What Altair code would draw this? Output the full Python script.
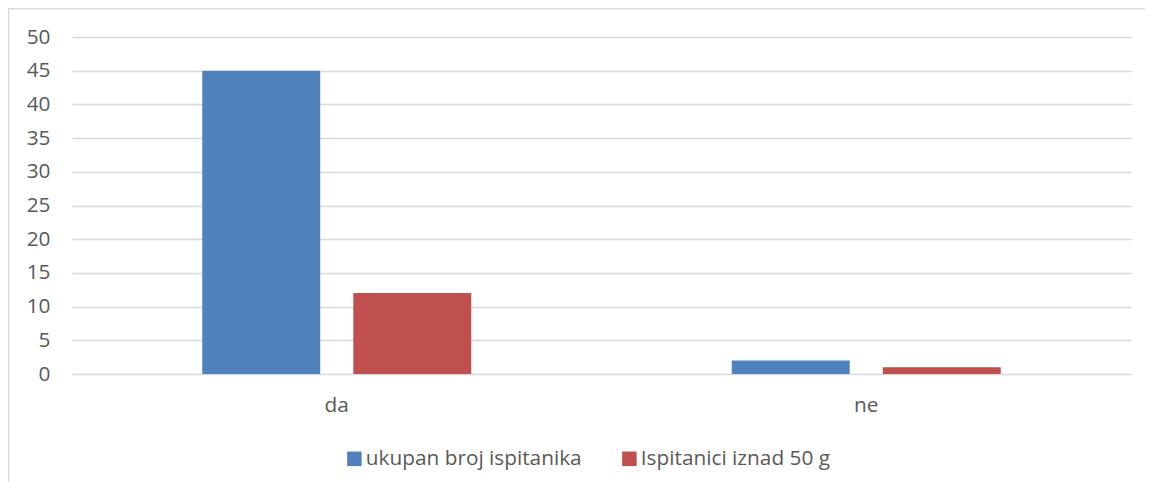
import altair as alt
import pandas as pd

categories = ["da", "ne"]
series = ["ukupan broj ispitanika", "Ispitanici iznad 50 g"]
ukupan = [45, 2]
iznad = [12, 1]
colors = ["#4F81BD", "#C0504D"]
y_ticks = [0, 5, 10, 15, 20, 25, 30, 35, 40, 45, 50]

rows = []
for i, c in enumerate(categories):
    rows.append({"kategorija": c, "serija": series[0], "vrijednost": ukupan[i]})
    rows.append({"kategorija": c, "serija": series[1], "vrijednost": iznad[i]})
df = pd.DataFrame(rows)

W = 1059
H = 337
PAD = {"left": 64, "top": 29, "right": 14, "bottom": 108}
FONT = "Open Sans"
FS = 20.8
TXT = "#595959"

bars = alt.Chart(df).mark_bar().encode(
    x=alt.X(
        "kategorija:N",
        sort=categories,
        scale=alt.Scale(paddingInner=0.492, paddingOuter=0.246),
        axis=alt.Axis(title=None, labelAngle=0, ticks=False, domain=False, grid=False,
                      labelPadding=21, labelFontSize=FS, labelColor=TXT, labelFont=FONT),
    ),
    xOffset=alt.XOffset("serija:N", sort=series,
                        scale=alt.Scale(paddingInner=0.219, paddingOuter=0)),
    y=alt.Y(
        "vrijednost:Q",
        scale=alt.Scale(domain=[0, 50]),
        axis=alt.Axis(values=y_ticks, title=None, ticks=False, domain=False,
                      gridColor="#D9D9D9", gridWidth=1.3, labelPadding=22,
                      labelFontSize=FS, labelColor=TXT, labelFont=FONT),
    ),
    color=alt.Color(
        "serija:N",
        sort=series,
        scale=alt.Scale(domain=series, range=colors),
        legend=alt.Legend(title=None, orient="none", legendX=272, legendY=411,
                          direction="horizontal", symbolType="square", symbolSize=210,
                          symbolStrokeWidth=0, labelFontSize=FS, labelColor=TXT,
                          labelFont=FONT, columnPadding=37, labelOffset=1,
                          labelLimit=500),
    ),
)

frame = pd.DataFrame({"a": [0]})
left_border = alt.Chart(frame).mark_rule(color="#D9D9D9", strokeWidth=1.5).encode(
    x=alt.value(-63.5), y=alt.value(-29), y2=alt.value(H + PAD["bottom"])
)
top_border = alt.Chart(frame).mark_rule(color="#D9D9D9", strokeWidth=1.5).encode(
    y=alt.value(-28.5), x=alt.value(-64), x2=alt.value(W + PAD["right"])
)

chart = alt.layer(bars, left_border, top_border).properties(
    width=W, height=H, padding=PAD, autosize=alt.AutoSizeParams(type="none"),
    background="white",
).configure_view(stroke=None)

chart.save("out.html", embed_options={"renderer": "svg", "actions": False})
